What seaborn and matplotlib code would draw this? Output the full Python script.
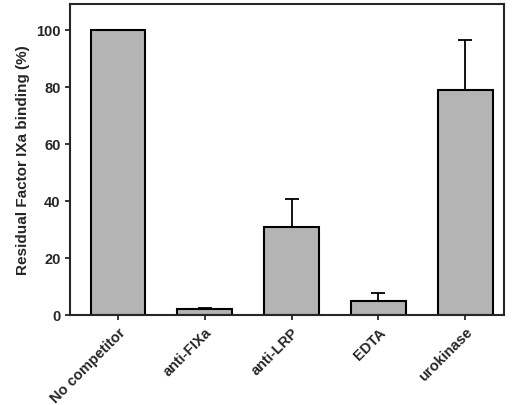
import matplotlib
matplotlib.use("Agg")
import matplotlib.pyplot as plt
import seaborn as sns
import pandas as pd

categories = ["No competitor", "anti-FIXa", "anti-LRP", "EDTA", "urokinase"]
values = [100, 2, 31, 5, 79]
errors = [0, 0.5, 9.5, 2.5, 17.5]

sns.set_style("ticks")
plt.rcParams['font.family'] = ['Liberation Sans', 'DejaVu Sans']
plt.rcParams['font.weight'] = 'bold'

df = pd.DataFrame({"cat": categories, "val": values})
fig = plt.figure(figsize=(5.2, 4.06), dpi=100)
ax = fig.add_axes([0.135, 0.222, 0.835, 0.765])
sns.barplot(data=df, x="cat", y="val", color="#b4b4b4", edgecolor="black",
            linewidth=1.5, width=0.63, saturation=1, ax=ax)
for i, (v, e) in enumerate(zip(values, errors)):
    if e > 0:
        ax.errorbar(i, v, yerr=[[0], [e]], color="black", capsize=5, elinewidth=1.3, capthick=1.3)
ax.set_ylim(0, 109)
ax.set_xlim(-0.55, 4.45)
ax.set_yticks([0, 20, 40, 60, 80, 100])
ax.set_xlabel("")
ax.set_ylabel("Residual Factor IXa binding (%)", fontsize=11, fontweight='bold')
ax.tick_params(labelsize=10.5, width=1.3)
plt.setp(ax.get_xticklabels(), rotation=45, ha="right", rotation_mode="anchor")
for s in ax.spines.values():
    s.set_linewidth(1.5)
    s.set_visible(True)
fig.savefig("out.png", dpi=100)
